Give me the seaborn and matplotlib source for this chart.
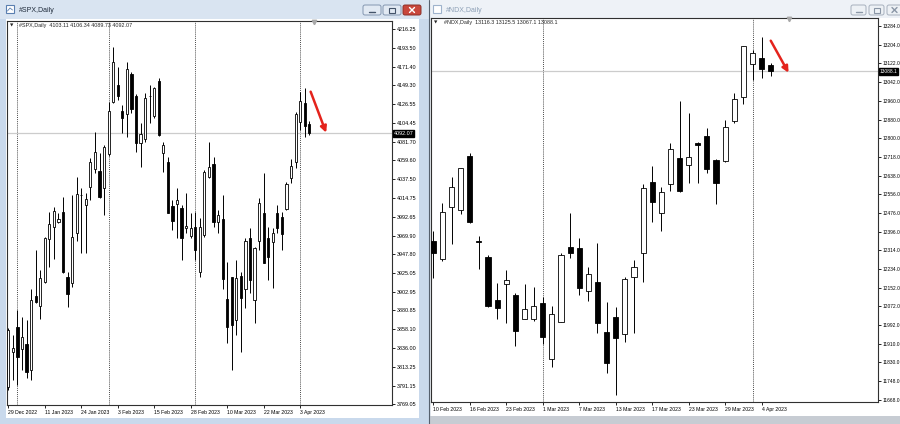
import numpy as np
import pandas as pd
import matplotlib
matplotlib.use("Agg")
import matplotlib.pyplot as plt
import matplotlib.transforms as mtransforms
from matplotlib.patches import Rectangle, FancyBboxPatch
import seaborn as sns

# ---------------- data: #SPX daily ----------------
spx_first, spx_last = "2022-12-29", "2023-04-05"
spx_holidays = ["2023-01-02", "2023-01-16", "2023-02-20"]
spx_open = [3789.7, 3831.5, 3861.3, 3834.3, 3840.6, 3809.6, 3897.8, 3885.9, 3914.1, 3965.8,
            3979.7, 3986.5, 3998.4, 3920.1, 3912.9, 3972.6, 4018.3, 4006.4, 4028.2, 4048.9,
            4046.9, 4026.2, 4067.2, 4129.6, 4149.1, 4118.9, 4114.5, 4162.2, 4136.3, 4079.9,
            4084.7, 4136.5, 4112.5, 4154.6, 4068.0, 4057.3, 4005.2, 4007.2, 4002.4, 3978.5,
            3969.4, 3979.7, 3926.9, 3970.6, 4040.2, 4055.3, 3986.5, 3989.3, 3893.9, 3920.1,
            3869.3, 3921.7, 3905.8, 3967.4, 3893.0, 3963.8, 3997.2, 3966.6, 3962.6, 3996.4,
            3992.5, 4001.2, 4038.2, 4058.0, 4105.7, 4128.4, 4103.11]
spx_high = [3859.3, 3851.3, 3881.1, 3873.2, 3869.3, 3905.8, 3952.7, 3928.8, 3968.6, 3998.4,
            4004.4, 3996.4, 4015.5, 3926.9, 4018.3, 4040.2, 4026.2, 4020.3, 4062.0, 4093.8,
            4068.0, 4077.9, 4129.6, 4195.2, 4171.3, 4125.6, 4176.5, 4165.4, 4138.7, 4103.8,
            4139.5, 4149.5, 4147.5, 4157.4, 4081.9, 4064.0, 4012.3, 4026.2, 4006.4, 4020.3,
            3997.2, 3998.4, 3990.5, 4048.1, 4081.9, 4064.0, 4000.4, 4018.3, 3938.8, 3920.9,
            3940.8, 3926.9, 3966.6, 3978.5, 3956.7, 4014.3, 4044.1, 3980.5, 3978.5, 4006.4,
            3998.4, 4034.2, 4060.8, 4117.7, 4141.5, 4145.5, 4106.34]
spx_low = [3785.8, 3797.7, 3791.7, 3809.6, 3799.7, 3797.7, 3889.1, 3870.0, 3912.9, 3932.8,
           3941.6, 3984.5, 3924.9, 3884.3, 3909.0, 3963.8, 3948.7, 3948.7, 4012.3, 4044.1,
           4014.3, 3994.4, 4064.8, 4128.4, 4131.6, 4092.6, 4087.9, 4115.7, 4070.0, 4052.1,
           4081.9, 4103.8, 4109.7, 4088.7, 4046.1, 3996.4, 3976.6, 3966.6, 3940.8, 3972.6,
           3966.6, 3940.8, 3920.9, 3968.6, 4038.2, 3979.7, 3972.6, 3905.8, 3842.2, 3809.6,
           3851.3, 3831.5, 3883.2, 3901.8, 3865.3, 3952.7, 3936.8, 3916.9, 3907.0, 3972.6,
           3952.7, 4000.4, 4032.2, 4050.1, 4095.8, 4087.9, 4089.73]
spx_close = [3857.3, 3835.5, 3824.7, 3848.6, 3807.6, 3893.1, 3891.1, 3919.7, 3966.6, 3983.7,
             3999.2, 3990.0, 3926.9, 3900.2, 3968.6, 4019.1, 4017.9, 4013.5, 4058.0, 4070.0,
             4016.3, 4075.9, 4118.9, 4176.5, 4136.3, 4109.7, 4168.2, 4120.4, 4079.9, 4091.0,
             4133.6, 4136.1, 4145.5, 4089.8, 4077.9, 3997.2, 3987.3, 4012.3, 3966.6, 3981.3,
             3978.5, 3952.7, 3980.5, 4046.1, 4052.1, 3986.5, 3994.4, 3917.7, 3861.3, 3863.3,
             3919.7, 3895.1, 3963.8, 3916.9, 3954.7, 4009.1, 3937.6, 3944.0, 3972.6, 3978.5,
             3971.8, 4031.4, 4052.9, 4114.9, 4130.4, 4100.6, 4092.07]
spx_price_ticks = [4216.25, 4193.50, 4171.40, 4149.30, 4126.55, 4104.45, 4081.70, 4059.60,
                   4037.50, 4014.75, 3992.65, 3969.90, 3947.80, 3925.05, 3902.95, 3880.85,
                   3858.10, 3836.00, 3813.25, 3791.15, 3769.05]

# ---------------- data: #NDX daily ----------------
ndx_first, ndx_last = "2023-02-10", "2023-04-05"
ndx_holidays = ["2023-02-20"]
ndx_open = [12356.4, 12277.2, 12503.3, 12489.0, 12722.3, 12353.5, 12287.3, 12100.1, 12167.8, 12121.7,
            12019.4, 12016.5, 12088.5, 11843.7, 12006.4, 12329.0, 12323.3, 12140.4, 12179.3, 11960.3,
            12028.0, 11953.1, 12198.0, 12301.7, 12608.5, 12477.4, 12599.8, 12715.1, 12683.4, 12779.9,
            12808.7, 12705.0, 12700.7, 12873.5, 12975.8, 13119.8, 13147.1, 13116.3]
ndx_high = [12399.6, 12520.6, 12633.0, 12671.8, 12733.8, 12376.6, 12294.5, 12172.0, 12229.7, 12131.7,
            12167.8, 12157.7, 12111.6, 12075.6, 12301.7, 12474.5, 12366.5, 12244.1, 12344.9, 12092.8,
            12071.3, 12200.9, 12272.9, 12599.8, 12679.0, 12586.9, 12779.9, 12959.9, 12906.6, 12781.5,
            12844.7, 12707.9, 12877.8, 12993.0, 13197.6, 13180.3, 13237.9, 13125.5]
ndx_low = [12193.7, 12270.0, 12342.0, 12471.7, 12431.3, 12232.6, 12071.3, 12016.5, 11999.2, 11902.7,
           12016.5, 12009.3, 11909.9, 11812.0, 12003.5, 12280.1, 12121.7, 12095.7, 11958.9, 11786.1,
           11689.6, 11920.0, 11956.0, 12179.3, 12438.5, 12399.6, 12572.5, 12568.0, 12607.0, 12604.2,
           12647.4, 12513.4, 12697.8, 12863.4, 12945.5, 13050.6, 13057.9, 13067.1]
ndx_close = [12301.7, 12478.8, 12586.9, 12669.0, 12435.6, 12350.0, 12074.1, 12067.0, 12186.5, 11967.6,
             12059.7, 12074.1, 11941.6, 12038.1, 12294.5, 12304.6, 12150.5, 12211.0, 11999.2, 11826.4,
             11934.4, 12189.3, 12244.1, 12582.6, 12525.0, 12568.2, 12752.5, 12572.5, 12719.4, 12771.2,
             12664.6, 12607.0, 12849.0, 12967.1, 13197.6, 13165.9, 13098.2, 13088.1]
ndx_price_ticks = [13284.0, 13204.0, 13122.0, 13042.0, 12960.0, 12880.0, 12800.0, 12718.0,
                   12638.0, 12556.0, 12476.0, 12396.0, 12314.0, 12234.0, 12152.0, 12072.0,
                   11992.0, 11910.0, 11830.0, 11748.0, 11668.0]

# ---------------- style ----------------
sns.set_theme(style="white")
plt.rcParams['font.family'] = ['Liberation Sans', 'DejaVu Sans']

W, H = 900, 424
fig = plt.figure(figsize=(9, 4.24), dpi=100)
fig.patch.set_facecolor('white')


def rect_px(x0, y0, x1, y1):
    return [x0 / W, 1 - y1 / H, (x1 - x0) / W, (y1 - y0) / H]


def trading_days(first, last, holidays):
    d = pd.bdate_range(first, last)
    return d[~d.isin(pd.to_datetime(holidays))]


def draw_chart(ax, dates, o, h, l, c, ticks, fmt, xlim, ylim, label_every,
               name, arrow, marker_x, body_w, ysize):
    o, h, l, c = map(np.asarray, (o, h, l, c))
    x = np.arange(len(o))
    ax.set_facecolor('white')
    # period separators (first bar of each month)
    months = dates.month
    for i in range(1, len(dates)):
        if months[i] != months[i - 1]:
            ax.axvline(i, color='#303030', lw=0.6, ls=(0, (1.2, 1.3)), zorder=1)
    # last price line
    ax.axhline(c[-1], color='#cccccc', lw=0.9, zorder=1)
    # candles
    ax.vlines(x, l, h, color='black', lw=0.7, zorder=3)
    up = c >= o
    bottom = np.minimum(o, c)
    height = np.maximum(np.abs(c - o), (ylim[1] - ylim[0]) * 0.0015)
    ax.bar(x, height, bottom=bottom, width=body_w,
           color=np.where(up, 'white', 'black'), edgecolor='black',
           linewidth=0.6, zorder=4)
    ax.set_xlim(*xlim)
    ax.set_ylim(*ylim)
    # price axis
    ax.yaxis.tick_right()
    ax.set_yticks(ticks)
    ax.set_yticklabels([fmt.format(t) for t in ticks])
    ax.tick_params(axis='y', which='major', right=True, left=False, direction='out',
                   length=2.2, width=0.6, pad=1.2, labelsize=ysize, colors='black')
    # time axis
    idx = np.arange(0, len(dates), label_every)
    ax.set_xticks(idx)
    ax.set_xticklabels([f"{d.day} {d.strftime('%b %Y')}" for d in dates[idx]],
                       ha='left')
    ax.tick_params(axis='x', which='major', bottom=True, direction='out',
                   length=2.5, width=0.6, pad=1.0, labelsize=3.7, colors='black')
    for s in ax.spines.values():
        s.set_color('#303030')
        s.set_linewidth(0.8)
    ax.grid(False)
    # current price box
    tr = mtransforms.blended_transform_factory(ax.transAxes, ax.transData)
    ax.text(1.004, c[-1], fmt.format(c[-1]), transform=tr, ha='left', va='center',
            fontsize=ysize, color='white',
            bbox=dict(boxstyle='square,pad=0.18', fc='black', ec='black'), zorder=6,
            clip_on=False)
    # header
    ax.text(0.007, 0.988, '\u25bc', transform=ax.transAxes, fontsize=3.2,
            va='center', ha='left', family=['DejaVu Sans'])
    ax.text(0.03, 0.988, f"{name},Daily  {o[-1]} {h[-1]} {l[-1]} {c[-1]}",
            transform=ax.transAxes, fontsize=3.9, va='center', ha='left')
    # chart shift marker
    trm = mtransforms.blended_transform_factory(ax.transData, ax.transAxes)
    ax.plot([marker_x], [0.997], marker='v', color='#a8a8a8', ms=3.2,
            transform=trm, clip_on=False, zorder=6)
    # red arrow
    ax.annotate('', xy=arrow[1], xytext=arrow[0],
                arrowprops=dict(arrowstyle='-|>', color='#e4231c', lw=1.8,
                                mutation_scale=9, shrinkA=0, shrinkB=0), zorder=7)


# ---------------- window chrome (pixel coordinates) ----------------
bg = fig.add_axes([0, 0, 1, 1], zorder=0)
bg.set_xlim(0, W)
bg.set_ylim(H, 0)
bg.axis('off')


def box(x0, y0, x1, y1, color, **kw):
    bg.add_patch(Rectangle((x0, y0), x1 - x0, y1 - y0, color=color, lw=0, **kw))


# left (active) window
box(0, 0, 429, 424, '#c9d9ec')
box(0, 0, 429, 19, '#d9e4f1')
box(6, 19, 419, 418, 'white')
bg.plot([428.5, 428.5], [0, 424], color='#55606e', lw=0.8)
# right (inactive) window
box(429, 0, 900, 424, '#e6ebf1')
box(429, 0, 900, 18, '#eef2f7')
box(431, 18, 900, 416, 'white')
box(429, 416, 900, 424, '#c7ccd3')

# title icons and texts
bg.add_patch(Rectangle((6, 5), 8, 8, fc='white', ec='#5a7fb0', lw=0.8))
bg.plot([7.5, 10, 12.5], [11, 8, 10], color='#5a7fb0', lw=0.6)
bg.text(19, 10, '#SPX,Daily', fontsize=5.0, va='center', ha='left', color='#1e2a3a')
bg.add_patch(Rectangle((433, 5), 8, 8, fc='white', ec='#9fb3cc', lw=0.8))
bg.text(446, 10, '#NDX,Daily', fontsize=5.0, va='center', ha='left', color='#8da0b6')


def button(x0, x1, fc, ec, glyph, gc):
    bg.add_patch(FancyBboxPatch((x0, 5), x1 - x0, 10,
                                boxstyle='round,pad=0,rounding_size=2',
                                fc=fc, ec=ec, lw=0.7))
    cx = (x0 + x1) / 2
    if glyph == 'min':
        bg.plot([cx - 3, cx + 3], [12, 12], color=gc, lw=1.0)
    elif glyph == 'max':
        bg.add_patch(Rectangle((cx - 3, 7.5), 6, 5, fc='none', ec=gc, lw=0.8))
    else:
        bg.plot([cx - 2.5, cx + 2.5], [7.5, 12.5], color=gc, lw=1.0)
        bg.plot([cx - 2.5, cx + 2.5], [12.5, 7.5], color=gc, lw=1.0)


button(363, 381, '#e1e9f3', '#8396b0', 'min', '#44546a')
button(383, 401, '#e1e9f3', '#8396b0', 'max', '#44546a')
button(403, 421, '#c9473c', '#8a2f28', 'close', 'white')
button(851, 866, '#edf1f5', '#a6b0bd', 'min', '#8a96a6')
button(869, 884, '#edf1f5', '#a6b0bd', 'max', '#8a96a6')
button(887, 902, '#edf1f5', '#a6b0bd', 'close', '#8a96a6')

# ---------------- charts ----------------
spx_dates = trading_days(spx_first, spx_last, spx_holidays)
ndx_dates = trading_days(ndx_first, ndx_last, ndx_holidays)

axL = fig.add_axes(rect_px(7, 21, 392, 405), zorder=2)
draw_chart(axL, spx_dates, spx_open, spx_high, spx_low, spx_close, spx_price_ticks,
           '{:.2f}', (-0.285, 84.14), (3767.9, 4225.8), 8, '#SPX',
           ((66.3, 4141.5), (69.7, 4092.6)), 67.0, 0.48, 3.9)

axR = fig.add_axes(rect_px(431, 18, 878, 402), zorder=2)
draw_chart(axR, ndx_dates, ndx_open, ndx_high, ndx_low, ndx_close, ndx_price_ticks,
           '{:.1f}', (-0.253, 48.76), (11659.3, 13318.6), 4, '#NDX',
           ((37.0, 13220.5), (38.95, 13082.2)), 38.96, 0.56, 3.5)

fig.savefig('out.png', dpi=100, facecolor=fig.get_facecolor())
